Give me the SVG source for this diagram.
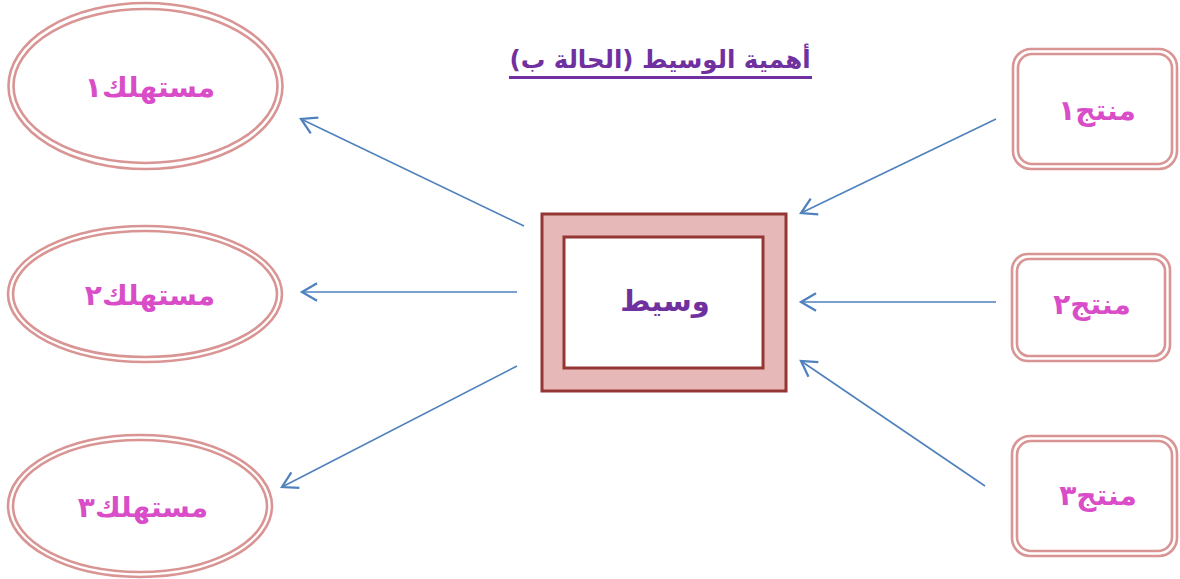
<svg xmlns="http://www.w3.org/2000/svg" width="1180" height="579" viewBox="0 0 1180 579">
<defs>
<style>
.ell{fill:none;stroke:#D99594;stroke-width:2.6}
.box{fill:none;stroke:#D99594;stroke-width:2.6}
.lbl{font-family:"DejaVu Sans",sans-serif;font-weight:bold;fill:#D94DC8;font-size:28px;text-anchor:middle}
.ttl{font-family:"DejaVu Sans",sans-serif;font-weight:bold;fill:#7030A0;text-anchor:middle}
.con{stroke:#4F81BD;stroke-width:1.6;fill:none;marker-end:url(#ah)}
</style>
<marker id="ah" markerWidth="20" markerHeight="20" viewBox="-12 -8 14 16" refX="0" refY="0" orient="auto" markerUnits="userSpaceOnUse">
<path d="M-12,-7 L0,0 L-12,7" fill="none" stroke="#4F81BD" stroke-width="1.8"/>
</marker>
</defs>
<rect width="1180" height="579" fill="#fff"/>
<g id="title">
<text class="ttl" x="660" y="68" font-size="24.5">أهمية الوسيط (الحالة ب)</text>
<rect x="509" y="76" width="303" height="3" fill="#7030A0"/>
</g>
<g id="consumer1">
<ellipse class="ell" cx="145.5" cy="86" rx="137" ry="83"/>
<ellipse class="ell" cx="145.5" cy="86" rx="132" ry="77"/>
<text class="lbl" x="150" y="97">مستهلك١</text>
</g>
<g id="consumer2">
<ellipse class="ell" cx="145" cy="294" rx="137" ry="68"/>
<ellipse class="ell" cx="145" cy="294" rx="132" ry="63"/>
<text class="lbl" x="150" y="305">مستهلك٢</text>
</g>
<g id="consumer3">
<ellipse class="ell" cx="140" cy="506" rx="132" ry="71"/>
<ellipse class="ell" cx="140" cy="506" rx="127" ry="66"/>
<text class="lbl" x="143" y="517">مستهلك٣</text>
</g>
<g id="broker">
<rect x="542" y="214" width="244" height="177" fill="#E6B8B7" stroke="#943634" stroke-width="3"/>
<rect x="564" y="237" width="199" height="131" fill="#fff" stroke="#943634" stroke-width="3"/>
<text class="ttl" x="665" y="311" font-size="29">وسيط</text>
</g>
<g id="producer1">
<rect class="box" x="1013" y="49" width="164" height="120" rx="18"/>
<rect class="box" x="1018" y="54" width="154" height="110" rx="14"/>
<text class="lbl" x="1097" y="120">منتج١</text>
</g>
<g id="producer2">
<rect class="box" x="1012" y="254" width="158" height="107" rx="16"/>
<rect class="box" x="1017" y="259" width="148" height="97" rx="12"/>
<text class="lbl" x="1092" y="314">منتج٢</text>
</g>
<g id="producer3">
<rect class="box" x="1012" y="436" width="165" height="120" rx="18"/>
<rect class="box" x="1017" y="441" width="155" height="110" rx="14"/>
<text class="lbl" x="1098" y="505">منتج٣</text>
</g>
<g id="connectors">
<line class="con" x1="996" y1="119" x2="801" y2="213"/>
<line class="con" x1="996" y1="302" x2="801" y2="302"/>
<line class="con" x1="985" y1="486" x2="801" y2="361"/>
<line class="con" x1="524" y1="226" x2="301" y2="119"/>
<line class="con" x1="517" y1="292" x2="302" y2="292"/>
<line class="con" x1="517" y1="366" x2="282" y2="487"/>
</g>
</svg>
